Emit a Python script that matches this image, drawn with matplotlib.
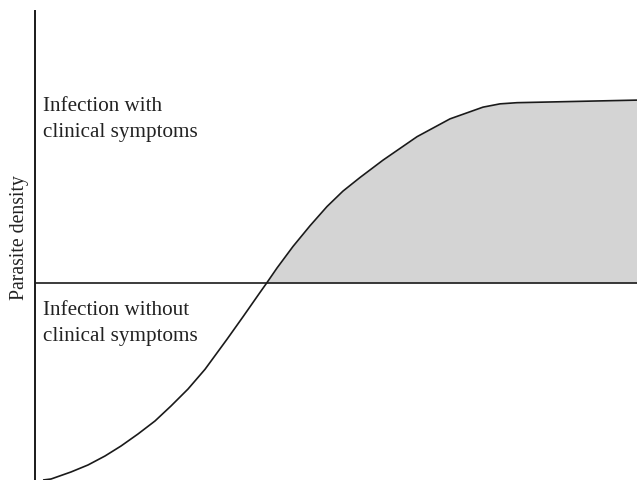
import matplotlib
matplotlib.use("Agg")
import matplotlib.pyplot as plt
import numpy as np

# Data (arbitrary units: time 0-100, density 0-100)
time = [1.33, 2.66, 5.98, 8.80, 11.63, 14.29, 17.11, 19.93, 22.59, 25.42,
        28.24, 31.89, 34.55, 37.38, 38.54, 40.20, 42.86, 45.68, 48.50,
        51.16, 53.99, 57.81, 63.46, 68.94, 74.42, 77.24, 80.07, 100.0]
density = [0.0, 0.21, 1.71, 3.20, 5.12, 7.25, 9.81, 12.58, 15.78, 19.40,
           23.6, 30.0, 34.8, 40.0, 42.1, 45.2, 49.8, 54.2, 58.3,
           61.6, 64.5, 68.2, 73.2, 77.0, 79.5, 80.2, 80.45, 81.0]
threshold = 42.0
label_upper = ["Infection with", "clinical symptoms"]
label_lower = ["Infection without", "clinical symptoms"]
y_label = "Parasite density"

plt.rcParams['font.family'] = ['Liberation Serif', 'DejaVu Serif']

W, H = 637, 481
fig = plt.figure(figsize=(W / 100, H / 100), dpi=100)
ax = fig.add_axes([35 / W, 0, (W - 35) / W, (H - 12) / H])
ax.set_xlim(0, 100)
ax.set_ylim(0, 100)

t = np.array(time)
d = np.array(density)
ax.fill_between(t, threshold, d, where=d >= threshold, interpolate=True,
                color='#d4d4d4', lw=0)
ax.plot(t, d, color='#1a1a1a', lw=1.2, solid_capstyle='butt',
        solid_joinstyle='round')
ax.axhline(threshold, color='#1a1a1a', lw=1.2)

for s in ['top', 'right', 'bottom']:
    ax.spines[s].set_visible(False)
ax.spines['left'].set_linewidth(1.4)
ax.spines['left'].set_color('#1a1a1a')
ax.set_xticks([])
ax.set_yticks([])

fs = 15.2
ax.text(1.33, 78.9, label_upper[0], fontsize=fs, va='baseline', ha='left', color='#222222')
ax.text(1.33, 73.4, label_upper[1], fontsize=fs, va='baseline', ha='left', color='#222222')
ax.text(1.33, 35.4, label_lower[0], fontsize=fs, va='baseline', ha='left', color='#222222')
ax.text(1.33, 29.8, label_lower[1], fontsize=fs, va='baseline', ha='left', color='#222222')

fig.text(24 / W, 1 - 238 / H, y_label, fontsize=14.2, rotation=90,
         ha='center', va='baseline', color='#222222', rotation_mode='anchor')

fig.savefig("out.png", dpi=100)
